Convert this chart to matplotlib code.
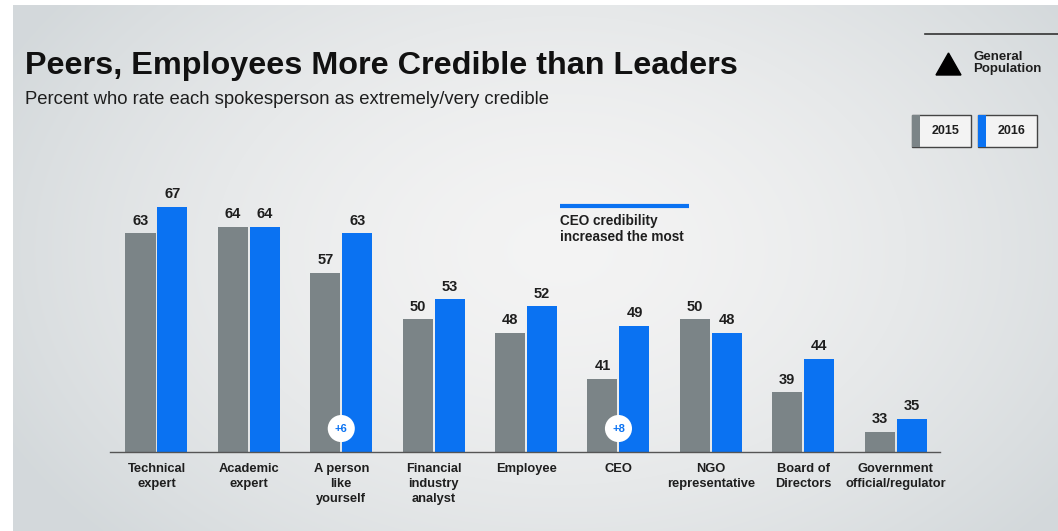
import numpy as np
import matplotlib
matplotlib.use("Agg")
import matplotlib.pyplot as plt
from matplotlib.patches import Rectangle, Polygon

plt.rcParams["font.family"] = ["Liberation Sans", "DejaVu Sans"]

# ---- data ----
categories = ["Technical\nexpert", "Academic\nexpert", "A person\nlike\nyourself",
              "Financial\nindustry\nanalyst", "Employee", "CEO",
              "NGO\nrepresentative", "Board of\nDirectors", "Government\nofficial/regulator"]
v2015 = [63, 64, 57, 50, 48, 41, 50, 39, 33]
v2016 = [67, 64, 63, 53, 52, 49, 48, 44, 35]
changes = {2: "+6", 5: "+8"}   # category index -> badge

GRAY = "#7b8487"
BLUE = "#0a72f2"
TXT = "#1e1e1e"

W, H = 1058, 531
fig = plt.figure(figsize=(W / 100, H / 100), dpi=100)

# background: white margin + soft radial gray gradient
bg = fig.add_axes([0, 0, 1, 1])
bg.set_xlim(0, W); bg.set_ylim(H, 0); bg.axis("off")
yy, xx = np.mgrid[0:H, 0:W]
r = np.sqrt(((xx - 560) / 620.0) ** 2 + ((yy - 250) / 420.0) ** 2)
r = np.clip(r, 0, 1)
c0 = np.array([0.955, 0.955, 0.955]); c1 = np.array([0.83, 0.85, 0.86])
img = c0 + (c1 - c0) * r[..., None] ** 1.6
img[:5, :, :] = 1.0
img[:, :13, :] = 1.0
bg.imshow(img, extent=[0, W, H, 0], aspect="auto", zorder=0)

# titles
bg.text(25, 66, "Peers, Employees More Credible than Leaders", fontsize=23.3,
        fontweight="bold", color="#111111", va="center", ha="left")
bg.text(25, 100, "Percent who rate each spokesperson as extremely/very credible",
        fontsize=13.3, color=TXT, va="center", ha="left")

# legend (top right)
bg.plot([925, 1058], [34, 34], color="#333333", lw=1.2)
bg.add_patch(Polygon([[936, 75], [961, 75], [948.5, 53]], closed=True, color="black"))
bg.text(973, 63, "General\nPopulation", fontsize=9.5, fontweight="bold",
        color=TXT, va="center", ha="left", linespacing=1.05)
for x0, lab, col in [(912, "2015", GRAY), (978, "2016", BLUE)]:
    bg.add_patch(Rectangle((x0, 115), 59, 32, facecolor="#f3f3f3", edgecolor="#444444", lw=1.0))
    bg.add_patch(Rectangle((x0, 115), 8, 32, facecolor=col, edgecolor="none"))
    bg.text(x0 + 34, 131, lab, fontsize=9, fontweight="bold", color=TXT, va="center", ha="center")

# callout
bg.plot([560, 689], [206, 206], color=BLUE, lw=3, solid_capstyle="butt")
bg.text(560, 229, "CEO credibility\nincreased the most", fontsize=9.8, fontweight="bold",
        color=TXT, va="center", ha="left", linespacing=1.1)

# ---- bar chart ----
ax = fig.add_axes([110 / W, (H - 451.7) / H, 830 / W, (451.7 - 186.9) / H])
ax.patch.set_alpha(0)
x = np.arange(len(categories))
bw = 0.325; off = 0.173
ax.bar(x - off, np.array(v2015) - 30, bw, bottom=30, color=GRAY, zorder=2)
ax.bar(x + off, np.array(v2016) - 30, bw, bottom=30, color=BLUE, zorder=2)
ax.set_xlim(-0.503, 8.48)
ax.set_ylim(30, 70)
for s in ["top", "right", "left"]:
    ax.spines[s].set_visible(False)
ax.spines["bottom"].set_color("#555555")
ax.spines["bottom"].set_linewidth(1.0)
ax.set_yticks([])
ax.set_xticks(x)
ax.set_xticklabels(categories, fontsize=9.3, fontweight="bold", color=TXT, linespacing=1.32)
ax.tick_params(axis="x", length=0, pad=8)

for i in x:
    ax.annotate(str(v2015[i]), (i - off, v2015[i]), xytext=(0, 4), textcoords="offset points",
                ha="center", va="bottom", fontsize=10.5, fontweight="bold", color=TXT)
    ax.annotate(str(v2016[i]), (i + off, v2016[i]), xytext=(0, 4), textcoords="offset points",
                ha="center", va="bottom", fontsize=10.5, fontweight="bold", color=TXT)

for i, lab in changes.items():
    ax.scatter([i], [33.5], s=380, color="white", zorder=3, edgecolors="none")
    ax.text(i, 33.5, lab, fontsize=8, fontweight="bold", color=BLUE,
            ha="center", va="center", zorder=4)

fig.savefig("out.png", dpi=100)
